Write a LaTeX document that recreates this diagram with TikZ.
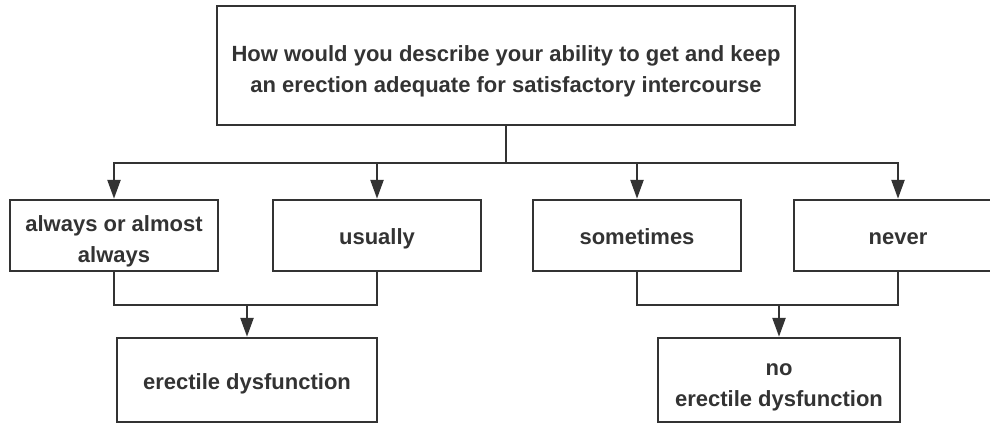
\documentclass[tikz,border=0pt]{standalone}
\usepackage{fontspec}
\setmainfont{Liberation Sans}
\usepackage{tikz}
\usetikzlibrary{arrows.meta,shapes}
\definecolor{ink}{HTML}{333333}

\begin{document}
\begin{tikzpicture}[>={Triangle[length=19bp,width=13bp]},
  box/.style={draw=ink,line width=2.5bp,text=ink,align=center,inner sep=0pt,
    text height=20bp,text depth=2bp,
    font=\fontsize{22bp}{31bp}\selectfont\bfseries},
  twoline/.style={text height=55bp,text depth=2bp}]
\useasboundingbox (0bp,0bp) rectangle (990bp,-425bp);
\node (Q) at (506bp,-65.5bp)[box,twoline,minimum width=578bp,minimum height=119bp] {How would you describe your ability to get and keep\\ an erection adequate for satisfactory intercourse};
\node (A1) at (114bp,-235.5bp)[box,twoline,minimum width=208bp,minimum height=71bp] {always or almost\\ always};
\node (A2) at (377bp,-235.5bp)[box,minimum width=208bp,minimum height=71bp] {usually};
\node (A3) at (637bp,-235.5bp)[box,minimum width=208bp,minimum height=71bp] {sometimes};
\node (A4) at (898bp,-235.5bp)[box,minimum width=208bp,minimum height=71bp] {never};
\node (ED) at (247bp,-380bp)[box,minimum width=260bp,minimum height=84bp] {erectile dysfunction};
\node (NED) at (779bp,-380bp)[box,twoline,minimum width=242bp,minimum height=84bp] {no\\ erectile dysfunction};
\coordinate (split) at (506bp,-163bp);
\coordinate (joinL) at (247bp,-305bp);
\coordinate (joinR) at (779bp,-305bp);
\draw [ink,line width=2.5bp] (Q.south) -- (split);
\foreach \a in {A1,A2,A3,A4}
  \draw [->,ink,line width=2.5bp] (split) -| (\a.north);
\draw [ink,line width=2.5bp] (A1.south) |- (joinL);
\draw [ink,line width=2.5bp] (A2.south) |- (joinL);
\draw [->,ink,line width=2.5bp] (joinL) -- (ED.north);
\draw [ink,line width=2.5bp] (A3.south) |- (joinR);
\draw [ink,line width=2.5bp] (A4.south) |- (joinR);
\draw [->,ink,line width=2.5bp] (joinR) -- (NED.north);
\end{tikzpicture}
\end{document}
